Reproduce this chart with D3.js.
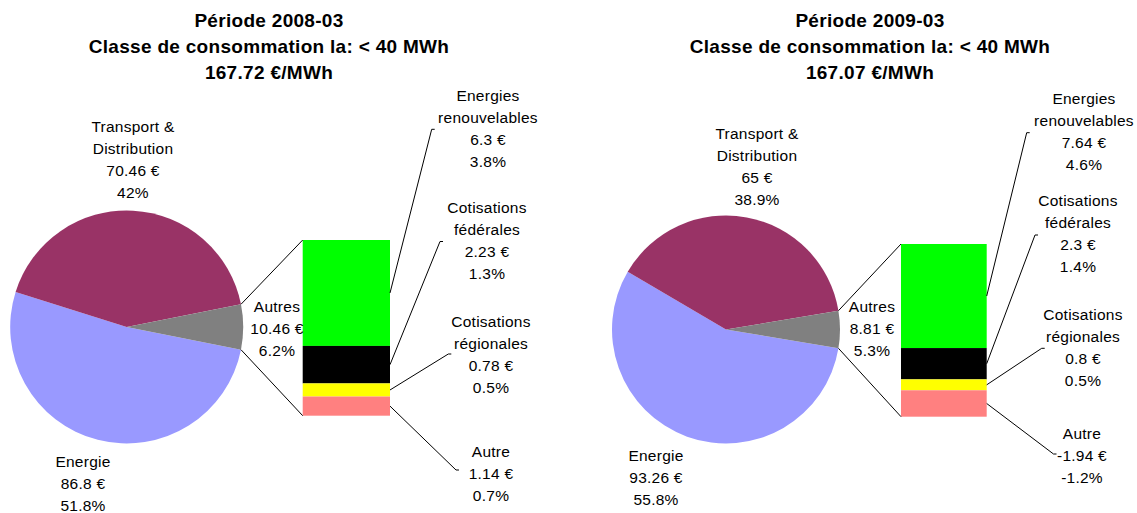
<!DOCTYPE html>
<html>
<head>
<meta charset="utf-8">
<script src="https://cdn.jsdelivr.net/npm/d3@7"></script>
<style>
  html, body { margin: 0; padding: 0; background: #fff; }
  svg { display: block; font-family: "Liberation Sans", Arial, sans-serif; }
</style>
</head>
<body>
<svg id="chart" width="1137" height="513"></svg>
<script>
// Electricity price breakdown, class Ia (< 40 MWh), in €/MWh
const periods = ["2008-03", "2009-03"];
const consumptionClass = "Classe de consommation la: < 40 MWh";

// Main pie slices
const pieCategories = ["Energie", "Transport & Distribution", "Autres"];
const energie = [86.8, 93.26];
const transport = [70.46, 65];
const autres = [10.46, 8.81];

// Breakdown of "Autres" shown in the stacked bar
const barCategories = ["Energies renouvelables", "Cotisations fédérales", "Cotisations régionales", "Autre"];
const renouvelables = [6.3, 7.64];
const federales = [2.23, 2.3];
const regionales = [0.78, 0.8];
const autre = [1.14, -1.94];

const pieColors = { "Energie": "#9999FF", "Transport & Distribution": "#993366", "Autres": "#808080" };
const barColors = ["#00FF00", "#000000", "#FFFF00", "#FF8080"];

// Label line breaks
const labelLines = {
  "Transport & Distribution": ["Transport &", "Distribution"],
  "Energie": ["Energie"],
  "Autres": ["Autres"],
  "Energies renouvelables": ["Energies", "renouvelables"],
  "Cotisations fédérales": ["Cotisations", "fédérales"],
  "Cotisations régionales": ["Cotisations", "régionales"],
  "Autre": ["Autre"]
};

// Panel layout
const layouts = [
  {
    titleX: 269,
    pie: { cx: 126.7, cy: 327, r: 116.5 },
    bar: { x0: 302.7, x1: 390, y0: 240, y1: 415.7 },
    pieLabels: {
      "Transport & Distribution": [133, 127],
      "Energie": [83, 462],
      "Autres": [277, 307]
    },
    barLabels: [[488, 96], [487, 208], [491, 322], [491, 452]],
    leaders: [[431.7, 129.3], [440, 241.5], [448.3, 354], [456, 470]]
  },
  {
    titleX: 870,
    pie: { cx: 726, cy: 329.5, r: 114 },
    bar: { x0: 901, x1: 986.7, y0: 244, y1: 416.7 },
    pieLabels: {
      "Transport & Distribution": [757, 134],
      "Energie": [656, 456],
      "Autres": [872, 307]
    },
    barLabels: [[1084, 99], [1078, 201], [1083, 315], [1082, 434]],
    leaders: [[1026.7, 132.7], [1035, 235], [1041.7, 348.3], [1053.5, 454]]
  }
];

const svg = d3.select("#chart");
const lineH = 22;
const euro = v => `${v} €`;
const pct = (v, total) => `${+(v / total * 100).toFixed(1)}%`;

function multiline(g, cx, y0, lines) {
  const t = g.append("text")
    .attr("text-anchor", "middle")
    .attr("font-size", 15.5)
    .attr("letter-spacing", 0.25)
    .attr("fill", "#000");
  lines.forEach((s, i) => {
    t.append("tspan").attr("x", cx).attr("y", y0 + i * lineH).attr("dy", "0.35em").text(s);
  });
  return t;
}

periods.forEach((period, i) => {
  const L = layouts[i];
  const g = svg.append("g");

  const pieData = [
    { name: pieCategories[0], value: energie[i] },
    { name: pieCategories[1], value: transport[i] },
    { name: pieCategories[2], value: autres[i] }
  ];
  const total = d3.sum(pieData, d => d.value);

  // Title
  const title = g.append("text")
    .attr("text-anchor", "middle")
    .attr("font-size", 19)
    .attr("letter-spacing", 0.3)
    .attr("font-weight", "bold")
    .attr("fill", "#000");
  [`Période ${period}`, consumptionClass, `${total.toFixed(2)} €/MWh`].forEach((s, k) => {
    title.append("tspan").attr("x", L.titleX).attr("y", 20 + k * 26).attr("dy", "0.35em").text(s);
  });

  // Pie, with the "Autres" slice centred at 3 o'clock
  const autresAngle = 2 * Math.PI * autres[i] / total;
  const start = Math.PI / 2 + autresAngle / 2;
  const pie = d3.pie().sort(null).value(d => d.value)
    .startAngle(start).endAngle(start + 2 * Math.PI);
  const arcs = pie(pieData);
  const arc = d3.arc().innerRadius(0).outerRadius(L.pie.r);

  const pg = g.append("g").attr("transform", `translate(${L.pie.cx},${L.pie.cy})`);
  pg.selectAll("path").data(arcs).join("path")
    .attr("d", arc)
    .attr("fill", d => pieColors[d.data.name]);

  // Stacked bar for the breakdown of "Autres"
  const barValues = [renouvelables[i], federales[i], regionales[i], autre[i]];
  const stack = [];
  let acc = 0;
  barValues.forEach((v, k) => {
    stack.push({ name: barCategories[k], value: v, y0: acc, y1: acc + Math.abs(v), color: barColors[k] });
    acc += Math.abs(v);
  });
  const y = d3.scaleLinear().domain([0, acc]).range([L.bar.y0, L.bar.y1]);

  g.selectAll("rect.seg").data(stack).join("rect")
    .attr("class", "seg")
    .attr("x", L.bar.x0)
    .attr("width", L.bar.x1 - L.bar.x0)
    .attr("y", d => y(d.y0))
    .attr("height", d => y(d.y1) - y(d.y0))
    .attr("fill", d => d.color);

  // Connector lines from the "Autres" slice to the bar
  const aArc = arcs[2];
  const pt = a => [L.pie.cx + L.pie.r * Math.sin(a), L.pie.cy - L.pie.r * Math.cos(a)];
  const upper = pt(aArc.startAngle);
  const lower = pt(aArc.endAngle);
  const conn = [[upper, [L.bar.x0, L.bar.y0]], [lower, [L.bar.x0, L.bar.y1]]];
  g.selectAll("line.conn").data(conn).join("line")
    .attr("class", "conn")
    .attr("x1", d => d[0][0]).attr("y1", d => d[0][1])
    .attr("x2", d => d[1][0]).attr("y2", d => d[1][1])
    .attr("stroke", "#000").attr("stroke-width", 1);

  // Pie labels
  pieData.forEach(d => {
    const [lx, ly] = L.pieLabels[d.name];
    multiline(g, lx, ly, [...labelLines[d.name], euro(d.value), pct(d.value, total)]);
  });

  // Bar labels with leader lines
  stack.forEach((d, k) => {
    const [lx, ly] = L.barLabels[k];
    multiline(g, lx, ly, [...labelLines[d.name], euro(d.value), pct(d.value, total)]);
    const [ex, ey] = L.leaders[k];
    const sx = L.bar.x1, sy = y((d.y0 + d.y1) / 2);
    g.append("polyline")
      .attr("points", `${sx},${sy} ${ex},${ey} ${ex + 3},${ey}`)
      .attr("fill", "none")
      .attr("stroke", "#000")
      .attr("stroke-width", 1);
  });
});
</script>
</body>
</html>
